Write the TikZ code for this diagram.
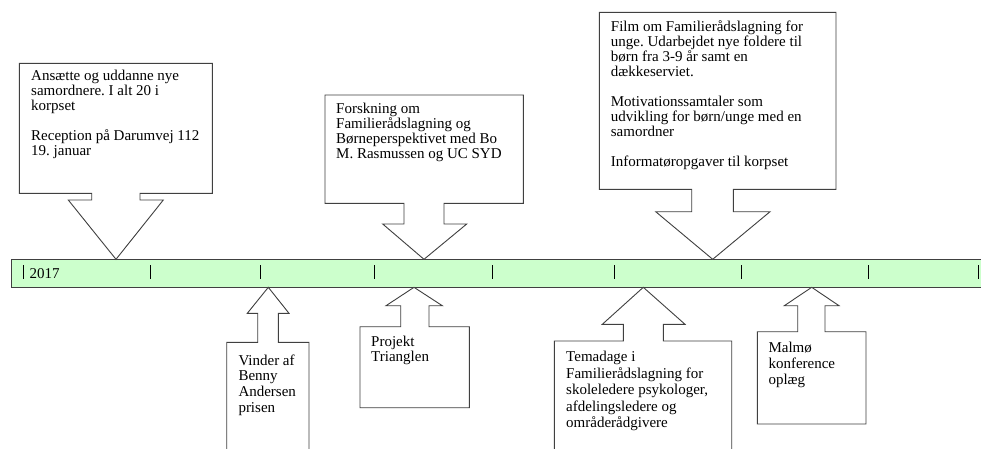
\documentclass[tikz,border=0pt]{standalone}
\usepackage{fontspec}
\setmainfont{Liberation Serif}
\frenchspacing
\definecolor{barfill}{HTML}{CCFFCC}
\definecolor{outline}{HTML}{404040}
\begin{document}
\begin{tikzpicture}[x=1pt,y=-1pt,
  callout/.style={draw=outline,fill=white,line width=0.9pt,line join=miter},
  txt/.style={anchor=north west,inner sep=0pt,align=left,font=\fontsize{15}{15}\selectfont\frenchspacing},
  tick/.style={draw=black,line width=1pt}]
\useasboundingbox (0,0) rectangle (981,448);
\clip (0,0) rectangle (981,448);
\fill[white] (0,0) rectangle (981,448);
% timeline bar
\node[draw=outline,fill=barfill,line width=0.9pt,minimum width=990pt,minimum height=28pt,inner sep=0pt,anchor=north west] (bar) at (11,259.3) {};
\foreach \t in {23.3,150,260.7,374.3,492.7,614.7,741.3,868,978}
  \draw[tick] (\t,265) -- (\t,279);
\node[anchor=base west,inner sep=0pt,font=\fontsize{15}{15}\selectfont] (year) at (29.3,278.3) {2017};
% top callouts
\draw[callout] (19.3,63.3) -- (212.3,63.3) -- (212.3,193.3) -- (140,193.3) -- (140,200) -- (163.3,200) -- (116,259.3) -- (68.3,200) -- (91.7,200) -- (91.7,193.3) -- (19.3,193.3) -- cycle;
\draw[callout] (325,95) -- (523.3,95) -- (523.3,203.3) -- (444,203.3) -- (444,224) -- (466.7,224) -- (424,259.3) -- (382.7,224) -- (404,224) -- (404,203.3) -- (325,203.3) -- cycle;
\draw[callout] (599.3,12.3) -- (836,12.3) -- (836,189.3) -- (733.3,189.3) -- (733.3,211.7) -- (770,211.7) -- (712.7,259.3) -- (655.7,211.7) -- (691.7,211.7) -- (691.7,189.3) -- (599.3,189.3) -- cycle;
% bottom callouts
\draw[callout] (268.3,287.3) -- (289,313.3) -- (278.3,313.3) -- (278.3,342.3) -- (309,342.3) -- (309,460) -- (226.7,460) -- (226.7,342.3) -- (257.7,342.3) -- (257.7,313.3) -- (247.3,313.3) -- cycle;
\draw[callout] (414,287.3) -- (442.3,305.7) -- (429,305.7) -- (429,326.7) -- (469.3,326.7) -- (469.3,407.7) -- (360,407.7) -- (360,326.7) -- (400.7,326.7) -- (400.7,305.7) -- (386,305.7) -- cycle;
\draw[callout] (643.3,287.3) -- (685,324.3) -- (663.3,324.3) -- (663.3,341) -- (731.7,341) -- (731.7,460) -- (554.3,460) -- (554.3,341) -- (623.3,341) -- (623.3,324.3) -- (602.3,324.3) -- cycle;
\draw[callout] (811.7,287.3) -- (839,305.7) -- (825,305.7) -- (825,331.7) -- (866,331.7) -- (866,424) -- (757.3,424) -- (757.3,331.7) -- (797.7,331.7) -- (797.7,305.7) -- (784.3,305.7) -- cycle;
% texts
\node[txt] (t1) at (31,68) {\rule{0pt}{12pt}Ansætte og uddanne nye\\samordnere. I alt 20 i\\korpset\\[15pt]Reception på Darumvej 112\\19. januar};
\node[txt] (t2) at (336,101.5) {\rule{0pt}{12pt}Forskning om\\Familierådslagning og\\Børneperspektivet med Bo\\M. Rasmussen og UC SYD};
\node[txt] (t3) at (610.7,19) {\rule{0pt}{12pt}Film om Familierådslagning for\\unge. Udarbejdet nye foldere til\\børn fra 3-9 år samt en\\dækkeserviet.\\[15pt]Motivationssamtaler som\\udvikling for børn/unge med en\\samordner\\[15pt]Informatøropgaver til korpset};
\node[txt,font=\fontsize{15}{15.7}\selectfont\frenchspacing] (t4) at (238.3,353) {\rule{0pt}{12pt}Vinder af\\Benny\\Andersen\\prisen};
\node[txt,font=\fontsize{15}{15.7}\selectfont\frenchspacing] (t5) at (371,334) {\rule{0pt}{12pt}Projekt\\Trianglen};
\node[txt,font=\fontsize{15}{16.4}\selectfont\frenchspacing] (t6) at (566,349.7) {\rule{0pt}{12pt}Temadage i\\Familierådslagning for\\skoleledere psykologer,\\afdelingsledere og\\områderådgivere};
\node[txt,font=\fontsize{15}{16}\selectfont\frenchspacing] (t7) at (768.3,340.7) {\rule{0pt}{12pt}Malmø\\konference\\oplæg};
\end{tikzpicture}
\end{document}
